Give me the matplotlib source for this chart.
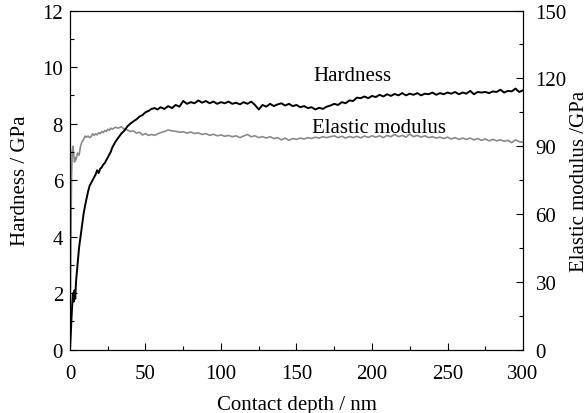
import numpy as np
from matplotlib import pyplot as plt
from matplotlib.ticker import MultipleLocator

# hardness curve (left axis, GPa)
hard_depth = [0, 0.5, 1, 1.5, 2, 2.5, 3, 3.5, 4, 5, 6, 7, 8, 9, 10, 11, 12, 13, 14, 15,
              16, 17, 18, 19, 20, 21, 22, 23, 24, 25, 26, 27, 28, 30, 32, 34, 36, 38,
              40, 42, 44, 46, 48, 50, 52, 54, 56, 58]
hard_val = [0, 0.5, 1.1, 1.6, 2.0, 1.7, 2.1, 1.8, 2.4, 3.0, 3.6, 4.0, 4.4, 4.8, 5.1,
            5.35, 5.6, 5.8, 5.9, 6.0, 6.1, 6.2, 6.35, 6.25, 6.4, 6.45, 6.55, 6.6, 6.7,
            6.8, 6.9, 7.0, 7.15, 7.35, 7.5, 7.65, 7.75, 7.9, 8.0, 8.08, 8.15, 8.25,
            8.3, 8.4, 8.45, 8.52, 8.55, 8.5]
hard_depth_tail = list(np.arange(60, 300.1, 2.5))
hard_val_tail = [8.58, 8.52, 8.62, 8.55, 8.66, 8.6, 8.8, 8.7, 8.76, 8.72, 8.82, 8.74,
                 8.8, 8.72, 8.78, 8.7, 8.76, 8.72, 8.78, 8.7, 8.74, 8.68, 8.76, 8.7,
                 8.78, 8.66, 8.5, 8.66, 8.6, 8.7, 8.62, 8.68, 8.72, 8.64, 8.7, 8.62,
                 8.66, 8.58, 8.62, 8.55, 8.58, 8.5, 8.56, 8.52, 8.6, 8.64, 8.7, 8.66,
                 8.76, 8.72, 8.82, 8.8, 8.92, 8.9, 8.96, 8.9, 8.98, 8.94, 9.02, 8.96,
                 9.04, 8.98, 9.05, 9.0, 9.08, 9.0, 9.06, 9.02, 9.08, 9.0, 9.06, 9.04,
                 9.1, 9.02, 9.08, 9.04, 9.1, 9.06, 9.12, 9.04, 9.1, 9.06, 9.16, 9.04,
                 9.12, 9.1, 9.12, 9.08, 9.14, 9.12, 9.2, 9.1, 9.16, 9.14, 9.24, 9.12,
                 9.18]

# elastic modulus curve (right axis, GPa)
mod_depth = [0, 0.5, 1, 1.5, 2, 2.5, 3, 3.5, 4, 5, 6, 7, 8, 9, 10, 11, 12, 13, 14, 15,
             16, 17, 18, 19, 20, 21, 22, 23, 24, 25, 26, 27, 28, 30, 32, 34, 36, 38,
             40, 42, 44, 46, 48, 50, 52, 54, 56, 58]
mod_val = [0, 40, 75, 88, 90, 86, 83, 85, 84, 87, 86, 90, 92, 93, 94.5, 94, 94.5, 93.8,
           94.2, 95.5, 94.8, 95.5, 95, 96, 95.5, 96.5, 96, 97, 96.5, 97.5, 97, 98,
           97.5, 98.4, 98, 98.6, 97.5, 97.2, 96.5, 96.8, 95.8, 96.2, 95, 95.6, 94.8,
           95.2, 94.8, 95.4]
mod_depth_tail = list(np.arange(60, 300.1, 2.5))
mod_val_tail = [96, 96.5, 97.2, 96.8, 96.6, 96.2, 96.4, 95.8, 96.3, 95.6, 95.9, 95.2,
                95.6, 94.8, 95.3, 94.6, 95, 94.4, 94.8, 94.2, 94.6, 93.8, 94.5, 95.2,
                94.2, 94.6, 93.8, 94.2, 93.6, 94.2, 93.4, 93.8, 92.8, 93.6, 92.6, 93.4,
                93.0, 93.6, 93.2, 93.8, 93.4, 94.0, 93.6, 94.2, 93.8, 94.2, 94.6, 93.8,
                94.4, 93.6, 94.3, 93.8, 94.4, 93.7, 94.5, 93.9, 94.6, 94.0, 94.6, 93.8,
                94.8, 94.2, 95.2, 94.2, 94.8, 94.0, 95.4, 94.2, 94.8, 94.0, 94.6, 93.8,
                94.2, 93.6, 94.0, 93.4, 94.0, 93.2, 93.8, 93.0, 93.6, 93.0, 93.6, 92.8,
                93.4, 92.6, 93.2, 92.4, 93.0, 92.4, 92.8, 92.2, 92.6, 91.6, 92.8, 92.0,
                91.8]

plt.rcParams['font.family'] = ['Liberation Serif', 'DejaVu Serif']
plt.rcParams['font.size'] = 15

fig = plt.figure(figsize=(5.88, 4.14), dpi=100)
ax = fig.add_axes([0.119, 0.153, 0.7705, 0.819])
ax2 = ax.twinx()

ax2.plot(mod_depth + mod_depth_tail, mod_val + mod_val_tail, color='#8a8a8a', lw=1.2)
ax.plot(hard_depth + hard_depth_tail, hard_val + hard_val_tail, color='black', lw=1.4)
ax.set_zorder(ax2.get_zorder() + 1)
ax.patch.set_visible(False)

ax.set_xlim(0, 300)
ax.set_ylim(0, 12)
ax2.set_ylim(0, 150)
ax.xaxis.set_major_locator(MultipleLocator(50))
ax.xaxis.set_minor_locator(MultipleLocator(25))
ax.yaxis.set_major_locator(MultipleLocator(2))
ax.yaxis.set_minor_locator(MultipleLocator(1))
ax2.yaxis.set_major_locator(MultipleLocator(30))
ax2.yaxis.set_minor_locator(MultipleLocator(15))

ax.tick_params(which='both', direction='in', top=False, right=False)
ax.tick_params(which='major', length=5, width=0.8)
ax.tick_params(which='minor', length=3, width=0.8)
ax.tick_params(axis='y', pad=5)
ax.tick_params(axis='x', pad=10)
ax2.tick_params(which='both', direction='in')
ax2.tick_params(which='major', length=5, width=0.8, pad=9)
ax2.tick_params(which='minor', length=3, width=0.8)

ax.set_xlabel('Contact depth / nm', labelpad=9)
ax.set_ylabel('Hardness / GPa', labelpad=9)
ax2.set_ylabel('Elastic modulus /GPa', labelpad=2)

ax.text(161, 9.72, 'Hardness', va='center', ha='left')
ax.text(160, 7.85, 'Elastic modulus', va='center', ha='left')

fig.savefig('out.png', dpi=100)
